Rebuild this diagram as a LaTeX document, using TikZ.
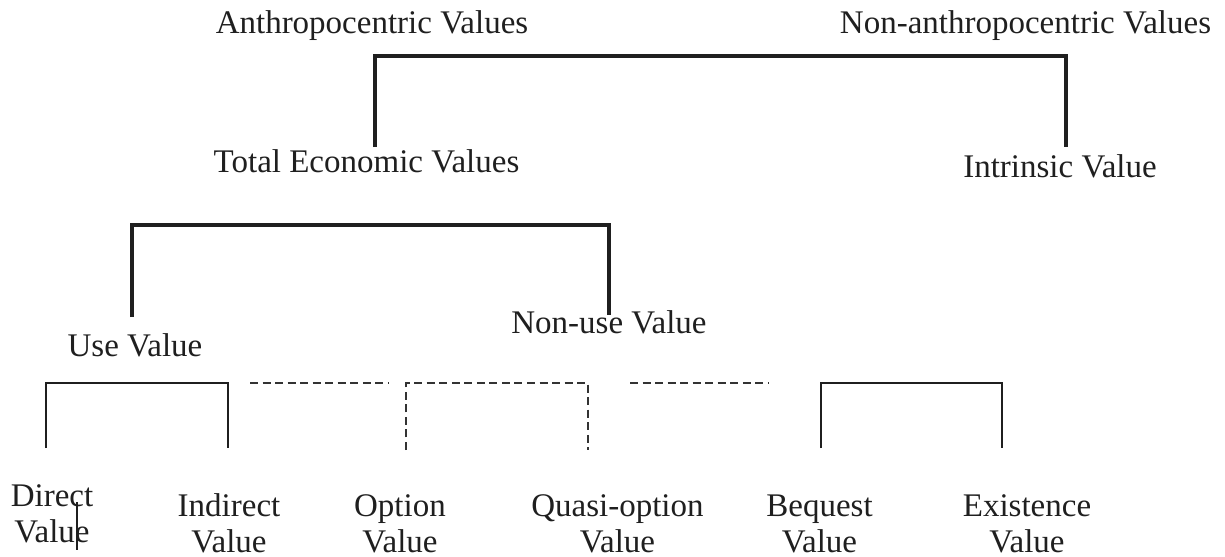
\documentclass[tikz,border=0pt]{standalone}
\usepackage{fontspec}
\setmainfont{Liberation Serif}
\tikzset{
  lbl/.style={inner sep=0pt, outer sep=0pt, anchor=base, font=\fontsize{24.75}{27}\selectfont, text=black!88},
  lbl2/.style={lbl, align=center},
  bline/.style={line width=2.4pt, draw=black!88},
  mline/.style={line width=2pt, draw=black!88},
  dline/.style={line width=1.3pt, draw=black!80, dash pattern=on 6pt off 3.4pt},
  tline/.style={line width=1.2pt, draw=black!88}
}
\begin{document}
\begin{tikzpicture}[x=0.75pt,y=-0.75pt]
\useasboundingbox (0,0) rectangle (1225,557);
% texts
\node[lbl] (anth) at (372,33) {Anthropocentric Values};
\node[lbl] (nonanth) at (1025.5,33) {Non-anthropocentric Values};
\node[lbl] (tev) at (366.5,172) {Total Economic Values};
\node[lbl] (intr) at (1060,177) {Intrinsic Value};
\node[lbl] (use) at (135,356) {Use Value};
\node[lbl] (nonuse) at (609,333) {Non-use Value};
\node[lbl2] (direct) at (52,542) {Direct\\Value};
\node[lbl2] (indirect) at (229,552) {Indirect\\Value};
\node[lbl2] (option) at (400,552) {Option\\Value};
\node[lbl2] (quasi) at (617.5,552) {Quasi-option\\Value};
\node[lbl2] (bequest) at (819.5,552) {Bequest\\Value};
\node[lbl2] (exist) at (1027,552) {Existence\\Value};
% bracket coordinates
\coordinate (t1) at (375,147);
\coordinate (t2) at (1066,147);
\coordinate (ttop) at (0,56);
\coordinate (m1) at (132,317);
\coordinate (m2) at (609,315);
\coordinate (mtop) at (0,225);
\coordinate (b1) at (46,448);
\coordinate (b2) at (228,448);
\coordinate (b3) at (821,448);
\coordinate (b4) at (1002,448);
\coordinate (btop) at (0,383);
\coordinate (d1) at (406,450);
\coordinate (d2) at (588,450);
\coordinate (h1) at (250,383);
\coordinate (h2) at (388,383);
\coordinate (h3) at (630,383);
\coordinate (h4) at (768,383);
\coordinate (x1) at (77,502);
\coordinate (x2) at (77,550);
% connectors
\draw[bline] (t1) -- (t1 |- ttop) -| (t2);
\draw[bline] (m1) -- (m1 |- mtop) -| (m2);
\draw[mline] (b1) -- (b1 |- btop) -| (b2);
\draw[mline] (b3) -- (b3 |- btop) -| (b4);
\draw[dline] (d1) -- (d1 |- btop) -| (d2);
\draw[dline] (h1) -- (h2);
\draw[dline] (h3) -- (h4);
\draw[tline] (x1) -- (x2);
\end{tikzpicture}
\end{document}
